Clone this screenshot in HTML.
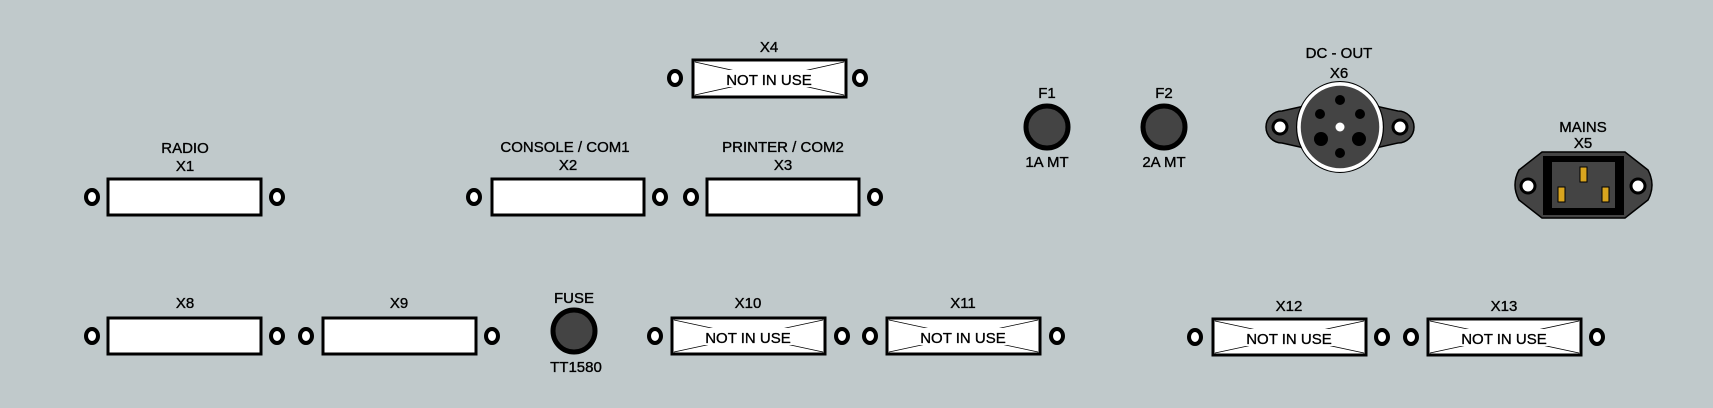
<!DOCTYPE html>
<html><head><meta charset="utf-8"><style>
html,body{margin:0;padding:0;background:#c0c9cb;}
svg{display:block;}
text{font-family:"Liberation Sans",Arial,sans-serif;font-size:15px;fill:#000;stroke:#000;stroke-width:0.35;text-anchor:middle;}
</style></head><body>
<svg width="1713" height="408" viewBox="0 0 1713 408" xmlns="http://www.w3.org/2000/svg">
<defs>
<g id="hole"><ellipse cx="0" cy="0" rx="6" ry="7" fill="#fff" stroke="#000" stroke-width="4"/></g>
</defs>
<rect width="1713" height="408" fill="#c0c9cb"/>

<g stroke="#000" stroke-width="3" fill="#fff">
<rect x="108" y="179" width="153" height="36"/>
<rect x="492" y="179" width="152" height="36"/>
<rect x="707" y="179" width="152" height="36"/>
<rect x="108" y="318" width="153" height="36"/>
<rect x="323" y="318" width="153" height="36"/>
<rect x="693" y="60" width="153" height="37"/>
<rect x="672" y="318" width="153" height="36"/>
<rect x="887" y="318" width="153" height="36"/>
<rect x="1213" y="319" width="153" height="36"/>
<rect x="1428" y="319" width="153" height="36"/>
</g>
<g stroke="#000" stroke-width="0.8">
<line x1="695" y1="62" x2="844" y2="95"/><line x1="844" y1="62" x2="695" y2="95"/>
<line x1="674" y1="320" x2="823" y2="352"/><line x1="823" y1="320" x2="674" y2="352"/>
<line x1="889" y1="320" x2="1038" y2="352"/><line x1="1038" y1="320" x2="889" y2="352"/>
<line x1="1215" y1="321" x2="1364" y2="353"/><line x1="1364" y1="321" x2="1215" y2="353"/>
<line x1="1430" y1="321" x2="1579" y2="353"/><line x1="1579" y1="321" x2="1430" y2="353"/>
</g>
<g fill="#fff">
<rect x="721" y="70" width="97" height="17"/>
<rect x="700" y="328" width="97" height="17"/>
<rect x="915" y="328" width="97" height="17"/>
<rect x="1241" y="329" width="97" height="17"/>
<rect x="1456" y="329" width="97" height="17"/>
</g>
<text x="769" y="85">NOT IN USE</text>
<text x="748" y="343">NOT IN USE</text>
<text x="963" y="343">NOT IN USE</text>
<text x="1289" y="344">NOT IN USE</text>
<text x="1504" y="344">NOT IN USE</text>

<use href="#hole" x="92" y="197"/><use href="#hole" x="277" y="197"/>
<use href="#hole" x="474" y="197"/><use href="#hole" x="660" y="197"/>
<use href="#hole" x="691" y="197"/><use href="#hole" x="875" y="197"/>
<use href="#hole" x="92" y="336"/><use href="#hole" x="277" y="336"/>
<use href="#hole" x="306" y="336"/><use href="#hole" x="492" y="336"/>
<use href="#hole" x="675" y="78"/><use href="#hole" x="860" y="78"/>
<use href="#hole" x="655" y="336"/><use href="#hole" x="842" y="336"/>
<use href="#hole" x="870" y="336"/><use href="#hole" x="1057" y="336"/>
<use href="#hole" x="1195" y="337"/><use href="#hole" x="1382" y="337"/>
<use href="#hole" x="1411" y="337"/><use href="#hole" x="1597" y="337"/>

<text x="185" y="153">RADIO</text><text x="185" y="171">X1</text>
<text x="565" y="152">CONSOLE / COM1</text><text x="568" y="170">X2</text>
<text x="783" y="152">PRINTER / COM2</text><text x="783" y="170">X3</text>
<text x="769" y="52">X4</text>
<text x="185" y="308">X8</text><text x="399" y="308">X9</text>
<text x="748" y="308">X10</text><text x="963" y="308">X11</text>
<text x="1289" y="311">X12</text><text x="1504" y="311">X13</text>
<text x="574" y="303">FUSE</text><text x="576" y="372">TT1580</text>
<text x="1047" y="98">F1</text><text x="1047" y="167">1A MT</text>
<text x="1164" y="98">F2</text><text x="1164" y="167">2A MT</text>
<text x="1339" y="58">DC - OUT</text><text x="1339" y="78">X6</text>
<text x="1583" y="132">MAINS</text><text x="1583" y="148">X5</text>

<g fill="#444" stroke="#000" stroke-width="5">
<circle cx="574" cy="331" r="21"/>
<circle cx="1047" cy="127" r="21"/>
<circle cx="1164" cy="127" r="21"/>
</g>

<path d="M1282 111 L1340 98 L1398 111 A16 16 0 0 1 1398 143 L1340 156 L1282 143 A16 16 0 0 1 1282 111 Z" fill="#444" stroke="#000" stroke-width="1.5"/>
<circle cx="1280" cy="127" r="7" fill="#fff" stroke="#000" stroke-width="3"/>
<circle cx="1400" cy="127" r="7" fill="#fff" stroke="#000" stroke-width="3"/>
<ellipse cx="1340" cy="127" rx="41" ry="43" fill="#444" stroke="#fff" stroke-width="3.5"/>
<ellipse cx="1340" cy="127" rx="43.5" ry="45.5" fill="none" stroke="#000" stroke-width="1"/>
<g fill="#000">
<circle cx="1340" cy="100" r="5"/><circle cx="1320" cy="114" r="5"/><circle cx="1360" cy="114" r="5"/>
<circle cx="1321" cy="139" r="7"/><circle cx="1359" cy="139" r="7"/><circle cx="1340" cy="153" r="5"/>
</g>
<circle cx="1340" cy="127" r="4.5" fill="#fff"/>

<path d="M1542 152 L1625 152 L1648 170 Q1656 185 1648 200 L1625 218 L1542 218 L1519 200 Q1511 185 1519 170 Z" fill="#444" stroke="#000" stroke-width="1.5"/>
<circle cx="1528" cy="186" r="7" fill="#fff" stroke="#000" stroke-width="3"/>
<circle cx="1638" cy="186" r="7" fill="#fff" stroke="#000" stroke-width="3"/>
<rect x="1543" y="156" width="81" height="59" fill="#000"/>
<rect x="1552" y="162" width="63" height="46" fill="#444"/>
<g fill="#d9a51f" stroke="#000" stroke-width="1">
<rect x="1580" y="167" width="7" height="15"/>
<rect x="1558" y="187" width="7" height="15"/>
<rect x="1602" y="187" width="7" height="15"/>
</g>
</svg>
</body></html>
